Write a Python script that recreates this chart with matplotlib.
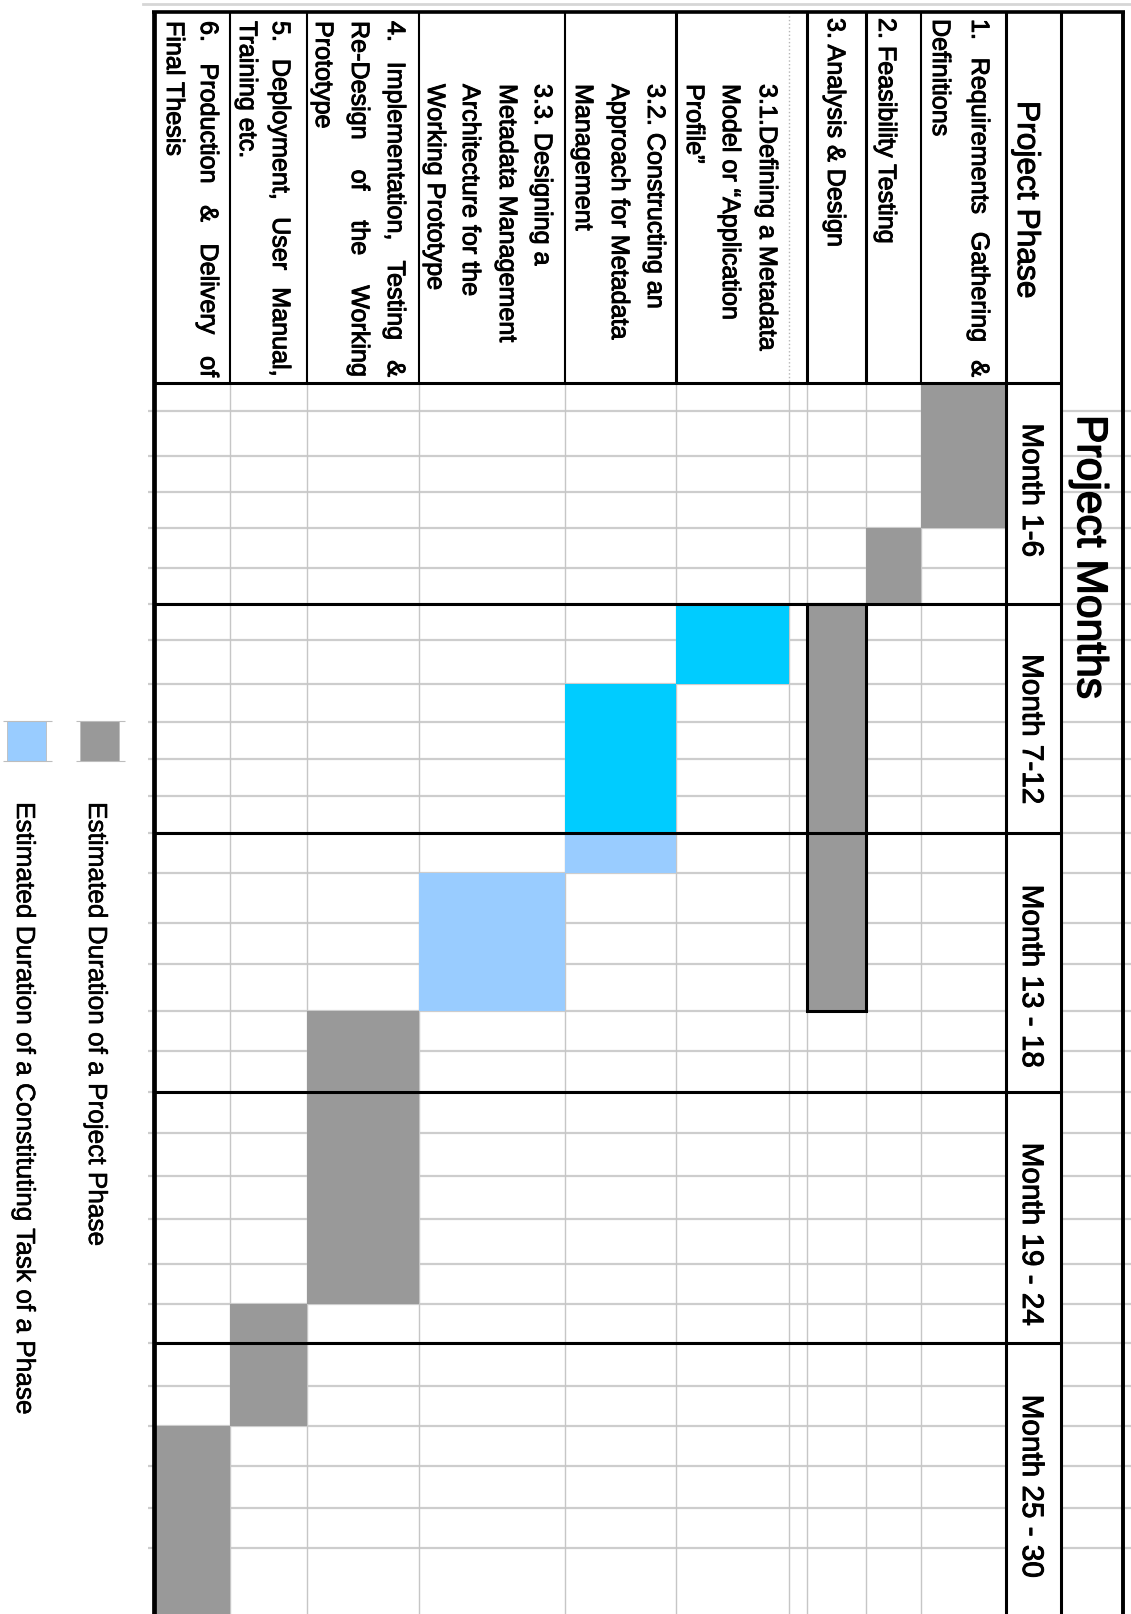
import numpy as np
import matplotlib
matplotlib.use("Agg")
import matplotlib.pyplot as plt
import matplotlib.patheffects as pe
from matplotlib import font_manager
from matplotlib.font_manager import FontProperties
from matplotlib.patches import Rectangle

# ---------------- data ----------------
TASK_LABELS = [
    ["1. Requirements Gathering &", "Definitions"],
    ["2. Feasibility Testing"],
    ["3. Analysis & Design"],
    ["3.1.Defining a Metadata", "Model or \u201cApplication", "Profile\u201d"],
    ["3.2. Constructing an", "Approach for Metadata", "Management"],
    ["3.3. Designing a", "Metadata Management", "Architecture for the", "Working Prototype"],
    ["4. Implementation, Testing &", "Re-Design of the Working", "Prototype"],
    ["5. Deployment, User Manual,", "Training etc."],
    ["6. Production & Delivery of", "Final Thesis"],
]
JUSTIFIED = [
    [True, False], [False], [False], [False, False, False], [False, False, False],
    [False, False, False, False], [True, True, False], [True, False], [True, False],
]
# bar segments: task index, first month, last month, kind
SEG_TASK = [0, 1, 2, 3, 4, 4, 5, 6, 7, 8]
SEG_START = [1, 5, 7, 7, 9, 13, 14, 17, 24, 27]
SEG_END = [4, 6, 16, 8, 12, 13, 16, 23, 26, 30]
SEG_KIND = ["phase", "phase", "phase", "task_a", "task_a", "task_b", "task_b", "phase", "phase", "phase"]
OUTLINED_TASKS = [2]
MONTH_BLOCKS = ["Month 1-6", "Month 7-12", "Month 13 - 18", "Month 19 - 24", "Month 25 - 30"]
MONTHS_PER_BLOCK = 6
HEADER_PHASE = "Project Phase"
TITLE = "Project Months"
LEGEND_LABELS = ["Estimated Duration of a Project Phase",
                 "Estimated Duration of a Constituting Task of a Phase"]
LEGEND_KINDS = ["phase", "task_b"]

# ---------------- layout (pixels) ----------------
W, H = 1131, 1615
ROW_EDGES_PX = [384, 412, 457, 493, 529, 569, 605, 641, 685, 723, 760, 797, 834,
                874, 924, 965, 1012, 1052, 1093, 1134, 1177, 1220, 1265, 1305,
                1344, 1387, 1427, 1467, 1509, 1549, 1630, 1711]
COL_PX = [(921, 1006), (866, 921), (807, 866), (676, 789), (565, 676),
          (419, 565), (307, 419), (230, 307), (154, 230)]
LABEL_BASE_X = [[972, 933], [879], [828], [760, 723, 687], [648, 612, 576],
                [535, 500, 463, 428], [388, 352, 316], [273, 240], [201, 167]]
LABEL_Y0 = [20, 19, 19, 85, 85, 85, 22, 22, 22]
JUSTIFY_END = 378
BLOCK_LABEL_Y = [491, 730, 977, 1235, 1487]
BLOCK_LABEL_X = 1031
TOP_Y = 13
LEFT_X, MONTHCOL_L, MONTHCOL_R, RIGHT_X = 154, 1006, 1061, 1123
HEADER_VLINES = [230, 307, 419, 565, 676, 807, 866, 921]
GRID_VLINES = [230, 307, 419, 565, 676, 789, 807, 866, 921]
HIDDEN_COL_X = 789

COLORS = {"phase": "#999999", "task_a": "#00CCFF", "task_b": "#99CCFF"}
GRID_C = "#cdcdcd"

# ---------------- fonts ----------------
names = {f.name for f in font_manager.fontManager.ttflist}
REG = "Liberation Sans" if "Liberation Sans" in names else "DejaVu Sans"
NARROW = "Liberation Sans Narrow" if "Liberation Sans Narrow" in names else REG

fig = plt.figure(figsize=(W / 100, H / 100), dpi=100)
fig.patch.set_facecolor("white")
renderer = fig.canvas.get_renderer()


def text_w(s, prop):
    return renderer.get_text_width_height_descent(s, prop, ismath=False)[0]


def fit_size(s, family, target, weight="normal"):
    p = FontProperties(family=family, size=20, weight=weight)
    return 20.0 * target / text_w(s, p)


phase_prop = FontProperties(family=NARROW, size=fit_size("Metadata Management", NARROW, 257))
month_prop = FontProperties(family=NARROW, size=fit_size("Month 13 - 18", NARROW, 183))
title_prop = FontProperties(family=REG, size=fit_size(TITLE, REG, 283))
hphase_prop = FontProperties(family=REG, size=fit_size(HEADER_PHASE, REG, 197))
legend_prop = FontProperties(family=NARROW, size=fit_size(LEGEND_LABELS[0], NARROW, 443))

HEAVY = [pe.withStroke(linewidth=0.7, foreground="black")]
HEAVIER = [pe.withStroke(linewidth=1.1, foreground="black")]

# ---------------- grid axes (months on a function scale) ----------------
ax = fig.add_axes([0, 0, 1, (H - ROW_EDGES_PX[0]) / H])
month_idx = np.arange(len(ROW_EDGES_PX), dtype=float)


def fwd(m):
    return np.interp(m, month_idx, ROW_EDGES_PX)


def inv(p):
    return np.interp(p, ROW_EDGES_PX, month_idx)


ax.set_yscale("function", functions=(fwd, inv))
ax.set_xlim(0, W)
ax.set_ylim(float(inv(H)), 0)
ax.axis("off")

n_months = len(MONTH_BLOCKS) * MONTHS_PER_BLOCK
edges = np.arange(1, n_months + 2)
ax.hlines(edges, 148, MONTHCOL_L, colors=GRID_C, lw=1.6, zorder=1)
ax.hlines(edges, MONTHCOL_R, W, colors=GRID_C, lw=1.6, zorder=1)
ax.vlines(GRID_VLINES, 0, n_months + 2, colors="#c6c6c6", lw=1.0, zorder=1)

for t, s, e, k in zip(SEG_TASK, SEG_START, SEG_END, SEG_KIND):
    l, r = COL_PX[t]
    outl = t in OUTLINED_TASKS
    ax.bar((l + r) / 2, e - s + 1, bottom=s - 1, width=r - l, color=COLORS[k],
           edgecolor="black" if outl else "none", linewidth=2.2 if outl else 0,
           zorder=5 if outl else 3)

blocks = np.arange(0, n_months, MONTHS_PER_BLOCK)
ax.hlines(blocks, LEFT_X, MONTHCOL_R, colors="black", lw=2.2, zorder=6, clip_on=False)

# ---------------- overlay axes in pixels ----------------
hx = fig.add_axes([0, 0, 1, 1])
hx.set_xlim(0, W)
hx.set_ylim(H, 0)
hx.axis("off")
hx.patch.set_alpha(0)

# spreadsheet gridline above the table
hx.plot([143, W], [5, 5], color="#d6d6d6", lw=2.0)
# header borders
hx.vlines(HEADER_VLINES, TOP_Y, ROW_EDGES_PX[0], colors="black",
          lw=[1.5, 1.5, 1.5, 1.5, 2.2, 2.2, 2.2, 1.5])
hx.vlines([HIDDEN_COL_X], TOP_Y, ROW_EDGES_PX[0], colors="#b5b5b5", lw=1.0, linestyles=":")
hx.vlines([MONTHCOL_L, MONTHCOL_R], TOP_Y, H, colors="black", lw=2.2)
hx.vlines([LEFT_X], TOP_Y - 1, H, colors="black", lw=3.4)
hx.vlines([RIGHT_X], TOP_Y - 1, H, colors="black", lw=2.8)
hx.hlines([TOP_Y], LEFT_X - 2, RIGHT_X + 2, colors="black", lw=2.6)


def put_line(x, y0, s, prop, justify_to=None, effects=HEAVY):
    kw = dict(rotation=-90, rotation_mode="anchor", ha="left", va="baseline",
              fontproperties=prop, color="black", path_effects=effects)
    if justify_to is None:
        hx.text(x, y0, s, **kw)
        return
    words = s.split()
    widths = [text_w(w, prop) for w in words]
    gap = (justify_to - y0 - sum(widths)) / (len(words) - 1)
    y = y0
    for w, wd in zip(words, widths):
        hx.text(x, y, w, **kw)
        y += wd + gap


for lines, xs, y0, just in zip(TASK_LABELS, LABEL_BASE_X, LABEL_Y0, JUSTIFIED):
    for s, x, j in zip(lines, xs, just):
        put_line(x, y0, s, phase_prop, JUSTIFY_END if j else None)

put_line(1018, 102, HEADER_PHASE, hphase_prop)
hx.text(1089, 558, TITLE, rotation=-90, ha="center", va="center",
        fontproperties=title_prop, path_effects=HEAVIER)

for lab, yc in zip(MONTH_BLOCKS, BLOCK_LABEL_Y):
    hx.text(BLOCK_LABEL_X, yc, lab, rotation=-90, ha="center", va="center",
            fontproperties=month_prop, path_effects=HEAVY)

# legend
LEG_SWATCH_X = [80, 7]
LEG_TEXT_X = [89, 17]
for kind, lab, sx, tx in zip(LEGEND_KINDS, LEGEND_LABELS, LEG_SWATCH_X, LEG_TEXT_X):
    hx.add_patch(Rectangle((sx, 722), 39, 40, facecolor=COLORS[kind],
                           edgecolor="#bdbdbd", lw=0.6))
    hx.hlines([722, 762], sx - 4, sx + 45, colors="#bdbdbd", lw=0.8)
    put_line(tx, 803, lab, legend_prop, effects=[pe.withStroke(linewidth=0.4, foreground="black")])

fig.savefig("out.png", dpi=100, facecolor="white")
